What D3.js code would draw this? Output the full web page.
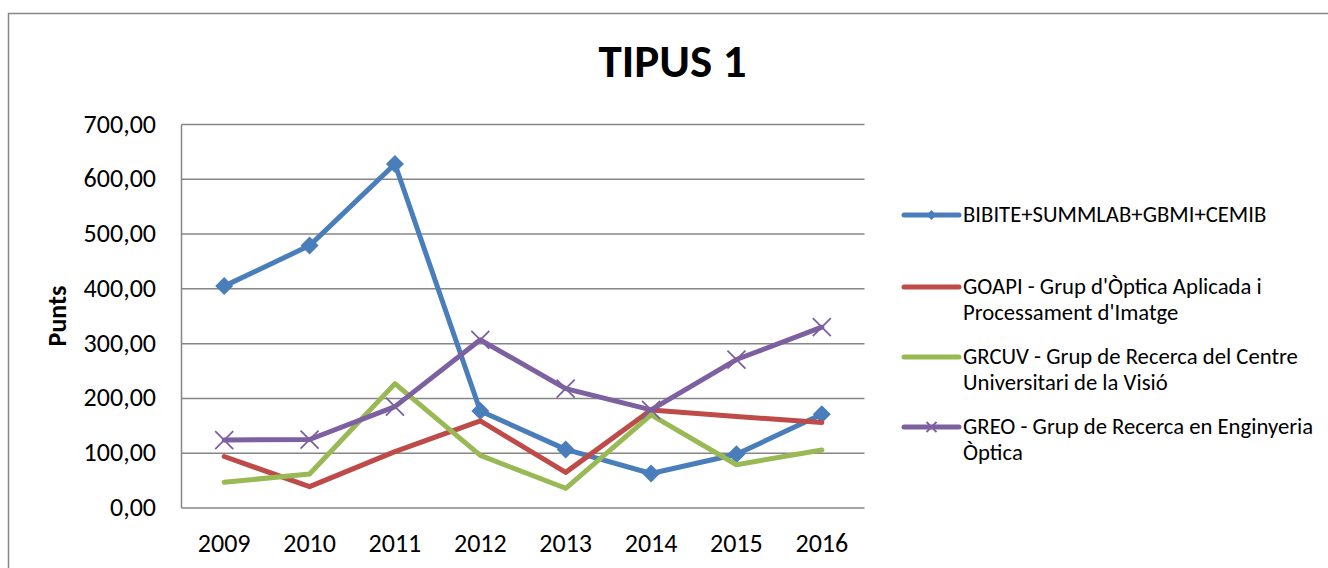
<!DOCTYPE html>
<html>
<head>
<meta charset="utf-8">
<script src="https://cdn.jsdelivr.net/npm/d3@7"></script>
<style>
  body { margin: 0; background: #fff; }
  svg { display: block; font-family: Carlito, Lato, "Open Sans", sans-serif; }
</style>
</head>
<body>
<div class="chart"></div>
<script>
// dades llegides del grafic
const years = ["2009", "2010", "2011", "2012", "2013", "2014", "2015", "2016"];
const seriesNames = [
	["BIBITE+SUMMLAB+GBMI+CEMIB"],
	["GOAPI - Grup d'Òptica Aplicada i", "Processament d'Imatge"],
	["GRCUV - Grup de Recerca del Centre", "Universitari de la Visió"],
	["GREO - Grup de Recerca en Enginyeria", "Òptica"]
];
const bibite = [405, 479, 628, 177, 107, 63, 98, 171];
const goapi = [94, 39, 103, 159, 65, 179, 167, 156];
const grcuv = [47, 62, 227, 96, 36, 170, 79, 106];
const greo = [124, 125, 185, 307, 218, 179, 271, 330];
const yTicks = [0, 100, 200, 300, 400, 500, 600, 700];

const allSeries = [bibite, goapi, grcuv, greo];
const colors = ["#4A7EBB", "#BE4B48", "#98B954", "#7D60A0"];
const markers = ["diamond", "none", "none", "cross"];

const W = 1328, H = 568;
const plot = {left: 181.5, right: 864.5, top: 124.5, bottom: 508};

const svg = d3.select(".chart").append("svg")
	.attr("width", W)
	.attr("height", H);

// marc exterior (talla per la dreta i per sota)
svg.append("rect")
	.attr("x", 8.5).attr("y", 13.5)
	.attr("width", W + 20).attr("height", H + 20)
	.attr("fill", "none")
	.attr("stroke", "#868686")
	.attr("stroke-width", 1.5);

const x = d3.scaleBand().domain(years).range([plot.left, plot.right]);
const y = d3.scaleLinear().domain([0, 700]).range([plot.bottom, plot.top]);

// graella
svg.append("g")
	.selectAll("line")
	.data(yTicks)
	.enter()
	.append("line")
	.attr("x1", plot.left)
	.attr("x2", plot.right)
	.attr("y1", (d) => y(d))
	.attr("y2", (d) => y(d))
	.style("stroke", "#868686")
	.style("stroke-width", 1.5);

svg.append("line")
	.attr("x1", plot.left).attr("x2", plot.left)
	.attr("y1", plot.top).attr("y2", plot.bottom)
	.style("stroke", "#868686")
	.style("stroke-width", 1.5);

// etiquetes eix Y
const fmt = (v) => d3.format(".2f")(v).replace(".", ",");
svg.append("g")
	.selectAll("text")
	.data(yTicks)
	.enter()
	.append("text")
	.attr("x", 156)
	.attr("y", (d) => y(d) + 8)
	.attr("text-anchor", "end")
	.attr("font-size", "26px")
	.attr("fill", "#000")
	.text(fmt);

// etiquetes eix X
svg.append("g")
	.selectAll("text")
	.data(years)
	.enter()
	.append("text")
	.attr("x", (d) => x(d) + x.bandwidth() / 2)
	.attr("y", 552)
	.attr("text-anchor", "middle")
	.attr("font-size", "26px")
	.attr("fill", "#000")
	.text((d) => d);

svg.append("text")
	.attr("transform", "translate(66,316) rotate(-90)")
	.attr("text-anchor", "middle")
	.attr("font-size", "26px")
	.attr("font-weight", "bold")
	.text("Punts");

svg.append("text")
	.attr("x", 672.5)
	.attr("y", 77)
	.attr("text-anchor", "middle")
	.attr("font-size", "47px")
	.attr("font-weight", "bold")
	.text("TIPUS 1");

const line = d3.line()
	.x((d, i) => x(years[i]) + x.bandwidth() / 2)
	.y((d) => y(d));

const drawMarker = function(g, type, cx, cy, color, size) {
	if (type == "diamond") {
		g.append("path")
			.attr("d", "M" + cx + "," + (cy - size) + "L" + (cx + size) + "," + cy +
				"L" + cx + "," + (cy + size) + "L" + (cx - size) + "," + cy + "Z")
			.style("fill", color);
	} else if (type == "cross") {
		g.append("path")
			.attr("d", "M" + (cx - size) + "," + (cy - size) + "L" + (cx + size) + "," + (cy + size) +
				"M" + (cx - size) + "," + (cy + size) + "L" + (cx + size) + "," + (cy - size))
			.style("fill", "none")
			.style("stroke", color)
			.style("stroke-width", 1.8);
	}
}

allSeries.forEach((vals, s) => {
	const g = svg.append("g");
	g.append("path")
		.attr("d", line(vals))
		.style("fill", "none")
		.style("stroke", colors[s])
		.style("stroke-width", 5)
		.style("stroke-linejoin", "round")
		.style("stroke-linecap", "round");
	vals.forEach((v, i) => {
		drawMarker(g, markers[s], x(years[i]) + x.bandwidth() / 2, y(v), colors[s], 9);
	});
});

// llegenda
const legendY = [[215], [287, 313], [357, 383], [427, 453]];
seriesNames.forEach((lines, s) => {
	const g = svg.append("g");
	const ly = legendY[s][0];
	g.append("line")
		.attr("x1", 904).attr("x2", 959)
		.attr("y1", ly).attr("y2", ly)
		.style("stroke", colors[s])
		.style("stroke-width", 5)
		.style("stroke-linecap", "round");
	drawMarker(g, markers[s], 931.5, ly, colors[s], 5);
	lines.forEach((t, k) => {
		g.append("text")
			.attr("x", 963)
			.attr("y", legendY[s][k] + 7)
			.attr("font-size", "22.7px")
			.attr("fill", "#000")
			.text(t);
	});
});
</script>
</body>
</html>
